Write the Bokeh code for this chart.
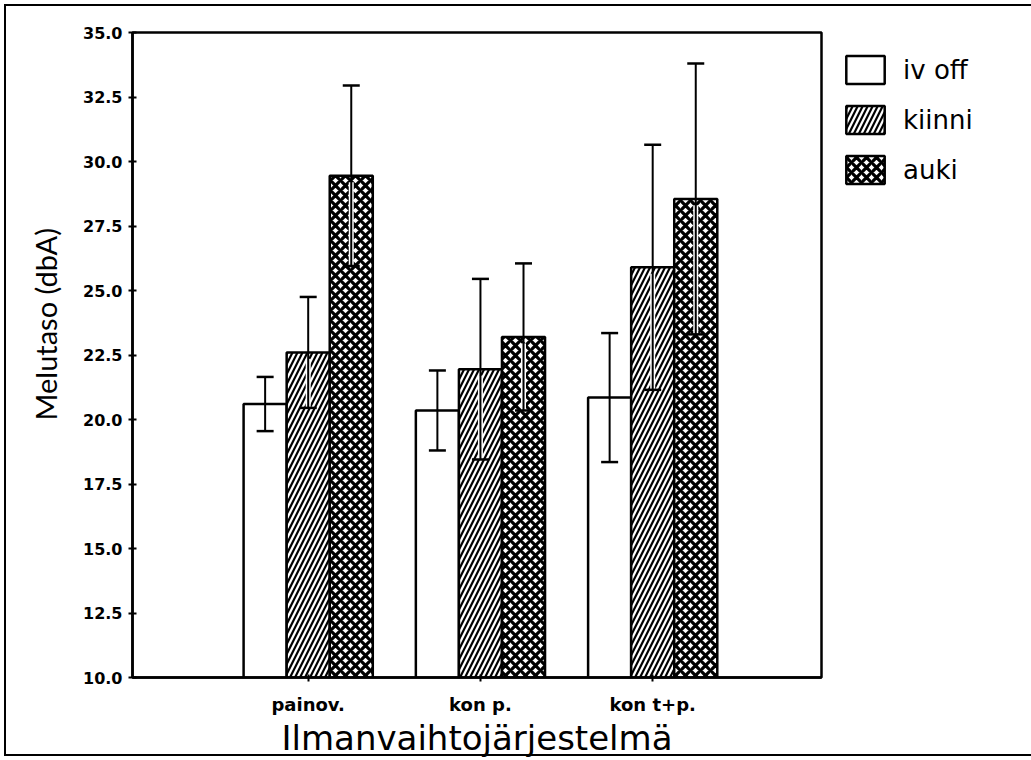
from bokeh.plotting import figure
from bokeh.models import (ColumnDataSource, Whisker, TeeHead, FixedTicker, Legend,
                          LegendItem, NumeralTickFormatter, Range1d, Title)
from bokeh.embed import file_html
from bokeh.resources import INLINE

# Ventilation systems (x categories)
systems = ["painov.", "kon p.", "kon t+p."]
# Series: mean noise level (dBA) and standard deviation
series_names = ["iv off", "kiinni", "auki"]
iv_off = [20.6, 20.35, 20.85]
iv_off_sd = [1.05, 1.55, 2.5]
kiinni = [22.6, 21.95, 25.9]
kiinni_sd = [2.15, 3.5, 4.75]
auki = [29.45, 23.2, 28.55]
auki_sd = [3.5, 2.85, 5.25]
y_ticks = [10.0, 12.5, 15.0, 17.5, 20.0, 22.5, 25.0, 27.5, 30.0, 32.5, 35.0]

p = figure(frame_width=689, frame_height=645, output_backend="svg", toolbar_location=None,
           x_range=Range1d(-0.02, 3.98), y_range=Range1d(10, 35),
           min_border_left=132, min_border_right=210, min_border_top=32,
           min_border_bottom=83)
p.xgrid.visible = False
p.ygrid.visible = False
p.outline_line_color = "black"
p.outline_line_width = 2.5
p.background_fill_color = "white"
# transparent surround so the page frame drawn by CSS shows through
p.border_fill_color = None
p.styles = {"outline": "2.5px solid black", "outline-offset": "-6px",
            "background-color": "white"}

bar_w = 0.25
offsets = [-0.25, 0.0, 0.25]
styles = [
    dict(fill_color="white"),
    dict(fill_color="white", hatch_pattern="right_diagonal_line", hatch_color="black",
         hatch_scale=10, hatch_weight=2.2),
    dict(fill_color="white", hatch_pattern="diagonal_cross", hatch_color="black",
         hatch_scale=10, hatch_weight=3.2),
]
values = [iv_off, kiinni, auki]
sds = [iv_off_sd, kiinni_sd, auki_sd]

renderers = []
for k in range(3):
    xs = [i + 1 + offsets[k] for i in range(len(systems))]
    vals = values[k]
    sd = sds[k]
    src = ColumnDataSource(dict(
        x=xs, top=vals,
        upper=[v + s for v, s in zip(vals, sd)],
        lower=[v - s for v, s in zip(vals, sd)],
        halo_top=[v - 0.25 for v in vals],
    ))
    r = p.vbar(x="x", top="top", bottom=10, width=bar_w, source=src,
               line_color="black", line_width=2.5, **styles[k])
    renderers.append(r)
    # white gap around the error line where it runs inside the bar
    p.segment(x0="x", y0="lower", x1="x", y1="halo_top", source=src,
              line_color="white", line_width=5)
    w = Whisker(base="x", upper="upper", lower="lower", source=src, level="overlay",
                line_color="black", line_width=2,
                upper_head=TeeHead(size=17, line_color="black", line_width=2.5),
                lower_head=TeeHead(size=17, line_color="black", line_width=2.5))
    p.add_layout(w)

# Axes
p.xaxis.ticker = FixedTicker(ticks=[1, 2, 3])
p.xaxis.major_label_overrides = {i + 1: s for i, s in enumerate(systems)}
p.xaxis.axis_label = "Ilmanvaihtojärjestelmä"
p.xaxis.axis_label_text_font = "DejaVu Sans"
p.xaxis.axis_label_text_font_style = "normal"
p.xaxis.axis_label_text_font_size = "34px"
p.xaxis.axis_label_standoff = 0
p.xaxis.major_label_text_font = "DejaVu Sans"
p.xaxis.major_label_text_font_style = "bold"
p.xaxis.major_label_text_font_size = "18px"
p.xaxis.major_label_standoff = 12
p.xaxis.major_tick_in = 3
p.xaxis.major_tick_out = 4
p.xaxis.minor_tick_line_color = None

p.yaxis.ticker = FixedTicker(ticks=y_ticks)
p.yaxis.formatter = NumeralTickFormatter(format="0.0")
p.yaxis.major_label_text_font = "DejaVu Sans"
p.yaxis.major_label_text_font_style = "bold"
p.yaxis.major_label_text_font_size = "16px"
p.yaxis.major_label_standoff = 6
p.yaxis.major_tick_in = 4
p.yaxis.major_tick_out = 4
p.yaxis.minor_tick_line_color = None

for ax in (p.xaxis[0], p.yaxis[0]):
    ax.axis_line_width = 2.5
    ax.major_tick_line_width = 2
    ax.major_label_text_color = "black"
    ax.axis_label_text_color = "black"

# Y-axis title, set somewhat above the middle of the axis
p.add_layout(Title(text="Melutaso (dbA)", align="left", offset=257, standoff=35,
                   text_font="Lato", text_font_style="normal", text_font_size="29px",
                   text_color="black"), "left")

# Legend in the panel to the right of the frame
legend = Legend(items=[LegendItem(label=n, renderers=[r]) for n, r in zip(series_names, renderers)],
                location="top_left", orientation="vertical", margin=20,
                glyph_width=48, glyph_height=35, spacing=15, padding=18,
                label_text_font="DejaVu Sans", label_text_font_size="26px",
                label_text_color="black",
                label_standoff=14, border_line_color=None, background_fill_alpha=0)
p.add_layout(legend, "right")

open("out.html", "w").write(file_html(p, INLINE))
